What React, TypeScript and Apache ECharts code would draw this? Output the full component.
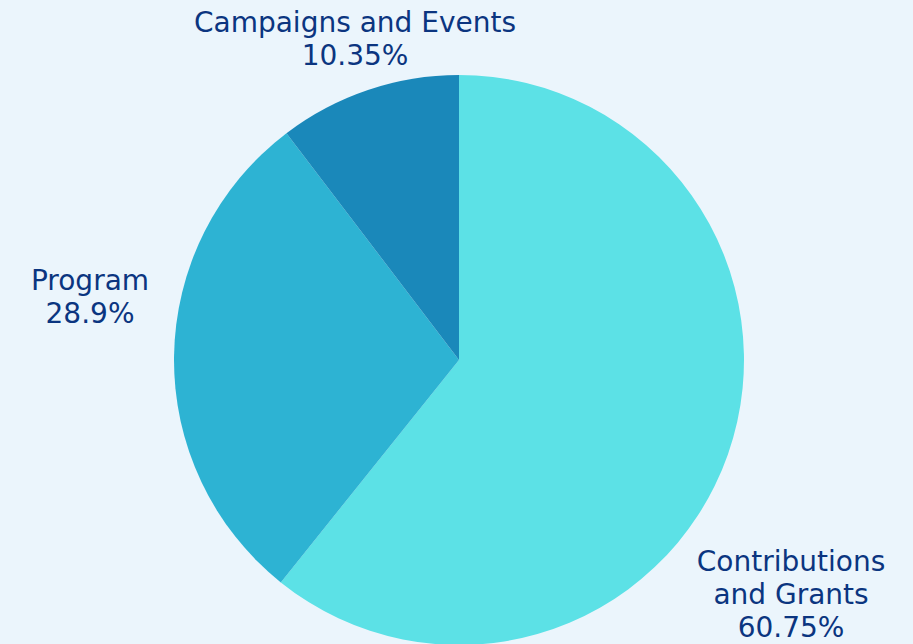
import React, { useEffect, useRef } from "react";
import * as echarts from "echarts";

const categories = ["Contributions\nand Grants", "Program", "Campaigns and Events"];
const values = [60.75, 28.9, 10.35];
const colors = ["#5CE1E6", "#2DB3D3", "#1A88BA"];
const labelPos = [
  [791, 594],
  [90, 297],
  [355, 39],
];

export default function App() {
  const ref = useRef<HTMLDivElement>(null);
  useEffect(() => {
    const chart = echarts.init(ref.current!, null, { renderer: "svg" });
    chart.setOption({
      animation: false,
      backgroundColor: "#EBF5FC",
      series: [
        {
          type: "pie",
          center: [459, 360],
          radius: 285,
          startAngle: 90,
          clockwise: true,
          data: categories.map((name, i) => ({
            name,
            value: values[i],
            itemStyle: { color: colors[i] },
          })),
          label: {
            show: true,
            position: "outside",
            formatter: "{b}\n{c}%",
            color: "#0B3580",
            fontFamily: "DejaVu Sans",
            fontWeight: "normal",
            fontSize: 28,
            lineHeight: 33,
            align: "center",
            overflow: "none",
          },
          labelLine: { show: false },
          labelLayout: (params: any) => ({
            x: labelPos[params.dataIndex][0],
            y: labelPos[params.dataIndex][1],
            align: "center",
            verticalAlign: "middle",
          }),
          emphasis: { disabled: true },
        },
      ],
    });
    return () => chart.dispose();
  }, []);
  return (
    <div
      ref={ref}
      style={{ position: "absolute", left: 0, top: 0, width: 913, height: 644 }}
    />
  );
}
